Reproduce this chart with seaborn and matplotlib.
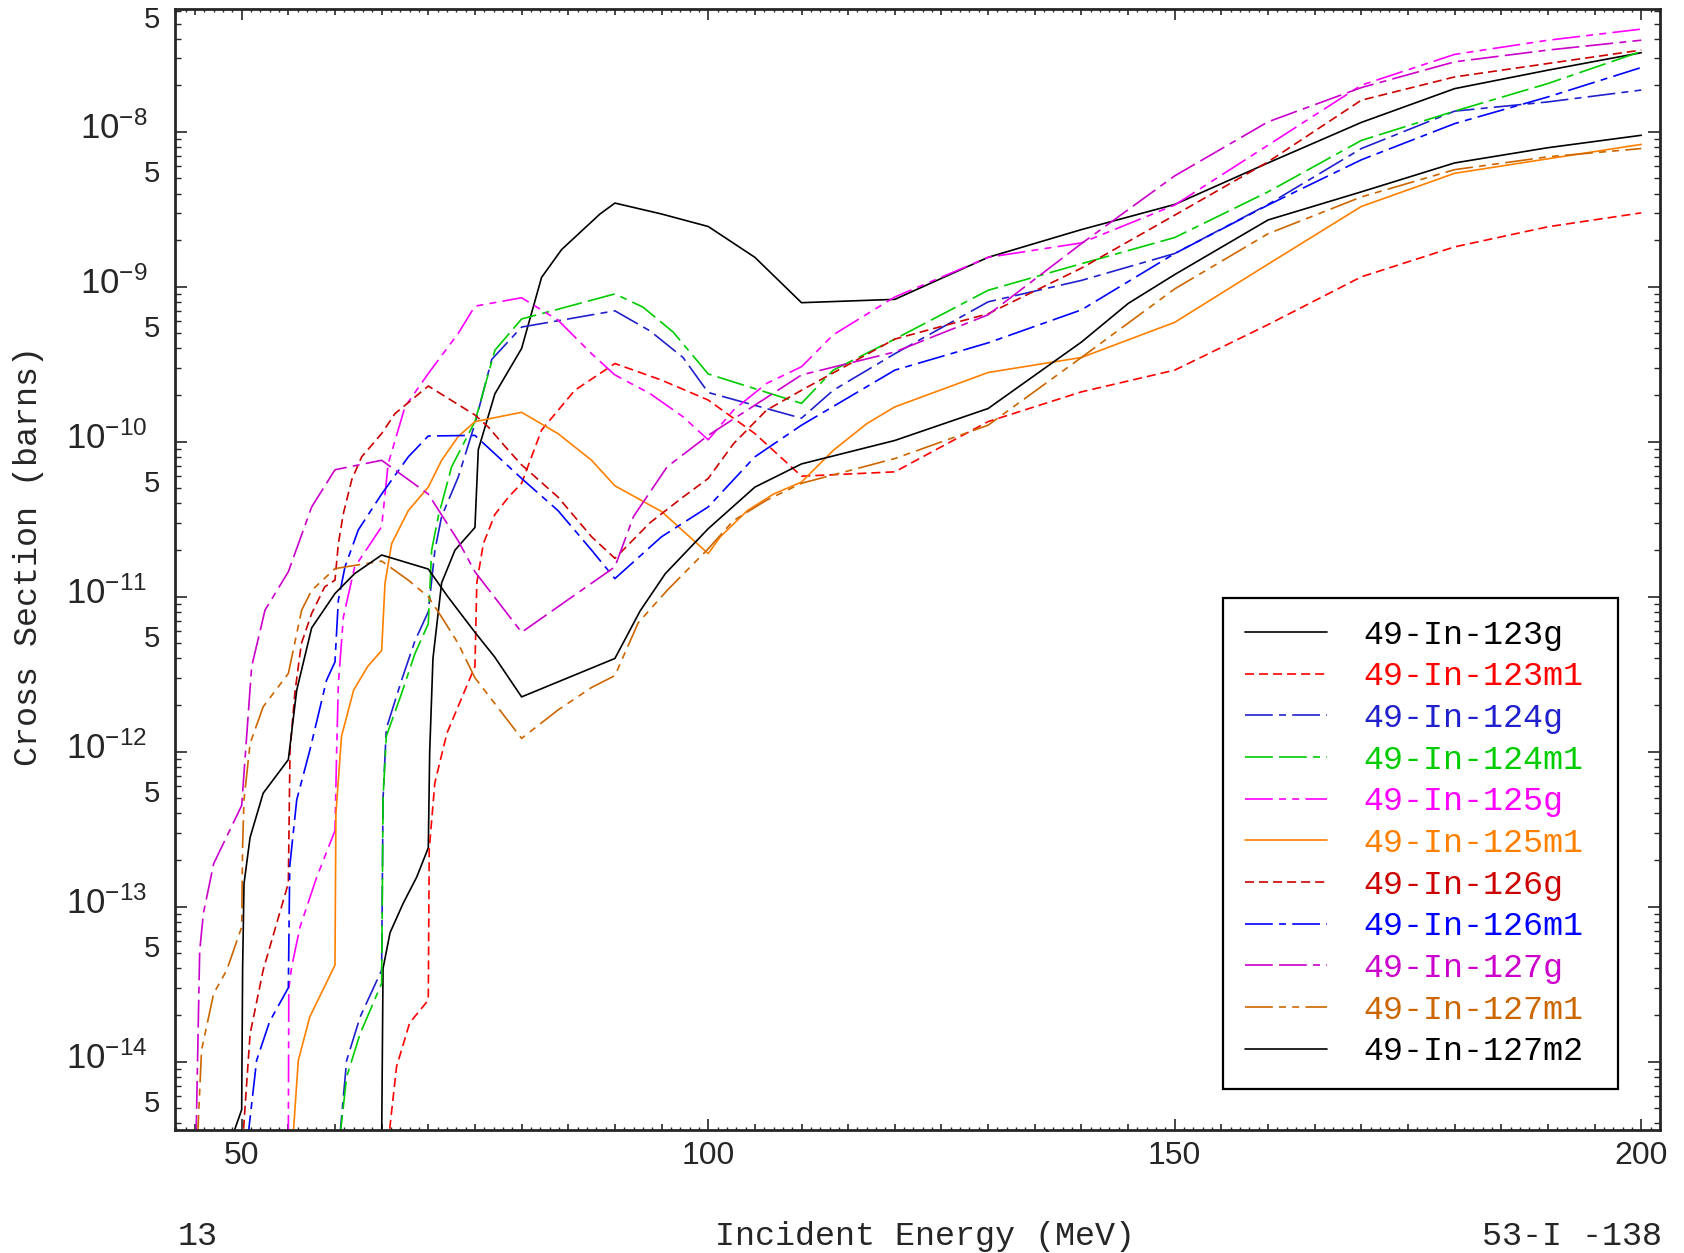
import numpy as np
import pandas as pd
import matplotlib
matplotlib.use("Agg")
import matplotlib.pyplot as plt
import matplotlib.transforms as mtrans
import seaborn as sns
from matplotlib.lines import Line2D
from matplotlib.ticker import FixedLocator, MultipleLocator, FuncFormatter

# DATA  (incident energy in MeV, cross section in barns)
# 3.0e-15 marks where a curve leaves the bottom of the frame at its threshold

labels = ["49-In-123g", "49-In-123m1", "49-In-124g", "49-In-124m1", "49-In-125g",
          "49-In-125m1", "49-In-126g", "49-In-126m1", "49-In-127g", "49-In-127m1",
          "49-In-127m2"]

e_123g = [65.0, 65.15, 65.9, 67.3, 68.75, 70, 70.15, 70.5, 71.43, 72.86, 75, 75.36, 77.14,
          80, 82.14, 84.29, 88.4, 90, 95, 100, 105, 110, 120, 130, 140, 150, 160, 170,
          180, 190, 200]
xs_123g = [3.0e-15, 4.0e-14, 6.8e-14, 1.05e-13, 1.55e-13, 2.4e-13, 1.0e-12, 4.0e-12, 1.23e-11,
           2.0e-11, 2.8e-11, 8.9e-11, 2.04e-10, 4.0e-10, 1.15e-9, 1.74e-9, 2.95e-9, 3.47e-9,
           2.95e-9, 2.45e-9, 1.55e-9, 7.9e-10, 8.3e-10, 1.55e-9, 2.34e-9, 3.4e-9, 6.3e-9,
           1.15e-8, 1.9e-8, 2.5e-8, 3.24e-8]

e_123m1 = [65.7, 66.6, 68.0, 70, 70.1, 70.7, 72.0, 75, 75.2, 75.9, 77.14, 78.6, 80, 82.14,
           85.7, 90, 95, 100, 105, 110, 120, 130, 140, 150, 160, 170, 180, 190, 200]
xs_123m1 = [3.0e-15, 9.3e-15, 1.78e-14, 2.5e-14, 2.34e-13, 6.3e-13, 1.32e-12, 3.55e-12,
            1.23e-11, 2.2e-11, 3.4e-11, 4.4e-11, 5.4e-11, 1.19e-10, 2.15e-10, 3.2e-10,
            2.5e-10, 1.86e-10, 1.13e-10, 6.0e-11, 6.4e-11, 1.35e-10, 2.1e-10, 2.9e-10,
            5.7e-10, 1.16e-9, 1.81e-9, 2.44e-9, 3.0e-9]

e_124g = [60.46, 61.25, 62.7, 65, 65.15, 65.5, 67.14, 68.57, 70, 70.71, 71.43, 73.2, 75,
          76.8, 80, 90, 93.75, 97.3, 100, 110, 113.4, 120, 130, 140, 150, 160, 170, 180,
          190, 200]
xs_124g = [3.0e-15, 1.02e-14, 1.95e-14, 3.9e-14, 5.0e-13, 1.41e-12, 2.9e-12, 5.2e-12, 8.0e-12,
           2.0e-11, 3.3e-11, 5.9e-11, 1.31e-10, 3.4e-10, 5.5e-10, 7.0e-10, 5.2e-10, 3.5e-10,
           2.08e-10, 1.42e-10, 2.15e-10, 3.7e-10, 8.0e-10, 1.1e-9, 1.64e-9, 3.4e-9, 7.8e-9,
           1.36e-8, 1.56e-8, 1.86e-8]

e_124m1 = [60.46, 61.25, 62.7, 65, 65.15, 65.5, 67.14, 68.57, 70, 70.36, 71.07, 72.5, 75,
           77.14, 80, 90, 93, 96.25, 100, 110, 113.4, 120, 130, 140, 150, 160, 170, 180,
           190, 200]
xs_124m1 = [3.0e-15, 8.0e-15, 1.52e-14, 3.2e-14, 5.0e-13, 1.26e-12, 2.38e-12, 4.3e-12,
            6.7e-12, 2.0e-11, 3.3e-11, 6.9e-11, 1.35e-10, 3.9e-10, 6.2e-10, 9.0e-10, 7.4e-10,
            5.1e-10, 2.74e-10, 1.77e-10, 2.9e-10, 4.6e-10, 9.5e-10, 1.41e-9, 2.08e-9, 4.1e-9,
            8.8e-9, 1.36e-8, 2.05e-8, 3.3e-8]

e_125g = [55.0, 55.05, 55.36, 56.25, 58.04, 60, 60.18, 60.36, 60.9, 62.1, 65, 65.7, 67.5,
          70, 73.2, 75, 80, 83.9, 87.5, 90, 93.75, 97.3, 100, 102.7, 106.25, 110, 113.4,
          120, 130, 140, 150, 160, 170, 180, 190, 200]
xs_125g = [3.0e-15, 2.97e-14, 4.1e-14, 7.4e-14, 1.55e-13, 3.1e-13, 1.02e-12, 2.75e-12,
           7.4e-12, 1.55e-11, 2.83e-11, 7.2e-11, 1.68e-10, 2.76e-10, 5.0e-10, 7.5e-10,
           8.5e-10, 6.1e-10, 3.7e-10, 2.7e-10, 2.05e-10, 1.45e-10, 1.03e-10, 1.6e-10,
           2.38e-10, 3.05e-10, 4.9e-10, 8.6e-10, 1.55e-9, 1.92e-9, 3.37e-9, 8.2e-9, 2.0e-8,
           3.16e-8, 3.9e-8, 4.6e-8]

e_125m1 = [55.46, 56.07, 57.3, 60, 60.1, 60.7, 62.0, 63.5, 65, 65.36, 66.07, 67.86, 70,
           71.43, 73.2, 75, 80, 83.9, 87.5, 90, 95, 100, 101.3, 104.2, 107, 110, 113.4, 117,
           120, 130, 140, 150, 160, 170, 180, 190, 200]
xs_125m1 = [3.0e-15, 1.02e-14, 1.95e-14, 4.2e-14, 4.0e-13, 1.26e-12, 2.5e-12, 3.55e-12,
            4.5e-12, 1.22e-11, 2.2e-11, 3.6e-11, 5.1e-11, 7.6e-11, 1.08e-10, 1.35e-10,
            1.55e-10, 1.13e-10, 7.6e-11, 5.2e-11, 3.55e-11, 1.9e-11, 2.44e-11, 3.6e-11,
            4.6e-11, 5.5e-11, 8.8e-11, 1.31e-10, 1.68e-10, 2.8e-10, 3.5e-10, 5.9e-10, 1.4e-9,
            3.3e-9, 5.4e-9, 6.7e-9, 8.3e-9]

e_126g = [50.1, 50.9, 52.3, 55, 55.18, 55.7, 56.4, 57.5, 58.9, 60, 60.36, 60.9, 61.8, 62.86,
          65, 66.43, 70, 75, 76.4, 78.6, 80, 83.9, 87.5, 90, 93.75, 97.3, 100, 102.7,
          106.25, 110, 120, 130, 140, 150, 160, 170, 180, 190, 200]
xs_126g = [3.0e-15, 1.51e-14, 3.9e-14, 1.42e-13, 1.02e-12, 2.4e-12, 5.0e-12, 7.8e-12,
           1.16e-11, 1.28e-11, 2.2e-11, 3.45e-11, 5.7e-11, 8.0e-11, 1.13e-10, 1.52e-10,
           2.29e-10, 1.49e-10, 1.25e-10, 8.8e-11, 7.1e-11, 4.4e-11, 2.44e-11, 1.77e-11,
           3.0e-11, 4.4e-11, 5.8e-11, 9.7e-11, 1.6e-10, 2.15e-10, 4.6e-10, 6.7e-10, 1.32e-9,
           2.9e-9, 6.4e-9, 1.6e-8, 2.26e-8, 2.76e-8, 3.37e-8]

e_126m1 = [50.6, 51.6, 53.0, 55, 55.15, 55.9, 57.3, 59.1, 60, 60.36, 61.07, 62.5, 65, 67.86,
           70, 75, 80, 83.9, 87.5, 90, 95, 100, 105, 110, 120, 130, 140, 150, 160, 170, 180,
           190, 200]
xs_126m1 = [3.0e-15, 1.02e-14, 1.82e-14, 3.0e-14, 1.82e-13, 4.9e-13, 1.02e-12, 2.9e-12,
            3.8e-12, 9.5e-12, 1.56e-11, 2.7e-11, 4.6e-11, 8.0e-11, 1.09e-10, 1.1e-10,
            5.8e-11, 3.6e-11, 2.0e-11, 1.31e-11, 2.44e-11, 3.8e-11, 8.0e-11, 1.28e-10,
            2.9e-10, 4.35e-10, 7.1e-10, 1.64e-9, 3.37e-9, 6.6e-9, 1.13e-8, 1.68e-8, 2.6e-8]

e_127g = [45.1, 45.5, 45.9, 47.0, 50, 51.07, 52.5, 55, 57.5, 60, 65, 70, 73.2, 75, 80, 90,
          92, 95.6, 100, 110, 120, 130, 140, 150, 160, 170, 180, 190, 200]
xs_127g = [3.0e-15, 5.2e-14, 9.1e-14, 1.9e-13, 4.5e-13, 3.55e-12, 8.2e-12, 1.45e-11, 3.8e-11,
           6.6e-11, 7.6e-11, 4.6e-11, 2.3e-11, 1.45e-11, 5.9e-12, 1.56e-11, 3.3e-11, 6.9e-11,
           1.1e-10, 2.7e-10, 3.8e-10, 6.6e-10, 1.9e-9, 5.2e-9, 1.16e-8, 1.93e-8, 2.83e-8,
           3.37e-8, 3.9e-8]

e_127m1 = [45.25, 45.7, 47.0, 48.4, 50, 50.1, 50.25, 50.9, 52.3, 55, 56.43, 57.5, 60, 65,
           67.86, 70, 71.43, 73.2, 75, 80, 83.9, 87.5, 90, 92.5, 95.6, 100, 102.7, 106.25,
           110, 120, 130, 140, 150, 160, 170, 180, 190, 200]
xs_127m1 = [3.0e-15, 1.19e-14, 2.76e-14, 3.9e-14, 7.4e-14, 2.5e-13, 4.9e-13, 1.13e-12,
            1.95e-12, 3.2e-12, 8.2e-12, 1.1e-11, 1.52e-11, 1.7e-11, 1.28e-11, 1.0e-11,
            7.4e-12, 5.0e-12, 3.0e-12, 1.22e-12, 1.86e-12, 2.6e-12, 3.1e-12, 6.8e-12, 1.1e-11,
            2.04e-11, 3.1e-11, 4.2e-11, 5.4e-11, 7.8e-11, 1.28e-10, 3.5e-10, 9.7e-10, 2.2e-9,
            3.8e-9, 5.7e-9, 6.9e-9, 7.8e-9]

e_127m2 = [48.75, 50, 50.1, 50.25, 50.9, 52.3, 55, 55.9, 57.5, 60, 62.1, 65, 70, 72.1, 75,
           77.1, 80, 90, 92.7, 95.4, 100, 105, 110, 120, 130, 140, 145, 150, 160, 170, 180,
           190, 200]
xs_127m2 = [3.0e-15, 4.9e-15, 4.0e-14, 1.41e-13, 2.8e-13, 5.4e-13, 8.9e-13, 2.5e-12, 6.3e-12,
            1.05e-11, 1.41e-11, 1.86e-11, 1.51e-11, 1.0e-11, 5.9e-12, 4.1e-12, 2.26e-12,
            4.0e-12, 8.1e-12, 1.41e-11, 2.75e-11, 5.1e-11, 7.2e-11, 1.02e-10, 1.64e-10,
            4.4e-10, 7.8e-10, 1.2e-9, 2.7e-9, 4.1e-9, 6.3e-9, 7.9e-9, 9.5e-9]

energies = [e_123g, e_123m1, e_124g, e_124m1, e_125g, e_125m1, e_126g, e_126m1,
            e_127g, e_127m1, e_127m2]
values = [xs_123g, xs_123m1, xs_124g, xs_124m1, xs_125g, xs_125m1, xs_126g, xs_126m1,
          xs_127g, xs_127m1, xs_127m2]

colors = ["#000000", "#ff0000", "#2020cc", "#00cc00", "#ff00ff", "#ff8000",
          "#cc0000", "#0000ff", "#cc00cc", "#cc6600", "#000000"]

# dash patterns in points
solid = ""
short_dash = (6.5, 3.6)
dash_dot = (20, 4.5, 5, 4.5)
long_long_short = (20, 4.5, 20, 4.5, 5, 4.5)
dash_dot_dot = (20, 4.5, 5, 4.5, 5, 4.5)
styles = [solid, short_dash, dash_dot, long_long_short, dash_dot_dot, solid,
          short_dash, dash_dot, long_long_short, dash_dot_dot, solid]

frames = []
for name, e, xs in zip(labels, energies, values):
    frames.append(pd.DataFrame({"energy": e, "xs": xs, "nuclide": name}))
df = pd.concat(frames, ignore_index=True)

# FIGURE

sns.set_style("ticks")
plt.rcParams["font.family"] = ["Liberation Sans", "DejaVu Sans"]
plt.rcParams["mathtext.fontset"] = "custom"
plt.rcParams["mathtext.rm"] = "Liberation Sans"
plt.rcParams["lines.scale_dashes"] = False
mono = ["Liberation Mono", "DejaVu Sans Mono"]

fig = plt.figure(figsize=(16.84, 12.53), dpi=100)
ax = fig.add_axes([0.1039, 0.0982, 0.9857 - 0.1039, 0.9928 - 0.0982])
ax.set_yscale("log")

sns.lineplot(data=df, x="energy", y="xs", hue="nuclide", style="nuclide",
             hue_order=labels, style_order=labels,
             palette=dict(zip(labels, colors)), dashes=dict(zip(labels, styles)),
             estimator=None, sort=True, legend=False, linewidth=1.2, ax=ax)

ax.set_xlim(42.85, 202.0)
ax.set_ylim(3.63e-15, 6.2e-8)
ax.set_xlabel("")
ax.set_ylabel("")

for sp in ax.spines.values():
    sp.set_visible(True)
    sp.set_linewidth(2.0)

# x ticks: long every 50, medium every 5, short every 1
ax.xaxis.set_major_locator(MultipleLocator(5))
ax.xaxis.set_minor_locator(MultipleLocator(1))
ax.xaxis.set_major_formatter(FuncFormatter(lambda v, p: f"{v:.0f}" if round(v) % 50 == 0 else ""))
ax.tick_params(axis="x", which="major", direction="in", length=4.2, width=1.2,
               top=True, bottom=True, labelsize=23, pad=8)
ax.tick_params(axis="x", which="minor", direction="in", length=2.4, width=1.0,
               top=True, bottom=True)

# y ticks: decades labelled 10^n, minor ticks with "5" labels
decades = [10.0 ** k for k in range(-14, -7)]
minors = [m * 10.0 ** k for k in range(-15, -7) for m in range(2, 10)]
ax.yaxis.set_major_locator(FixedLocator(decades))
ax.yaxis.set_minor_locator(FixedLocator(minors))
ax.yaxis.set_major_formatter(FuncFormatter(
    lambda v, p: r"$\mathregular{10^{%d}}$" % round(np.log10(v))))
ax.yaxis.set_minor_formatter(FuncFormatter(
    lambda v, p: "5" if abs(v / 10.0 ** np.floor(np.log10(v) + 1e-9) - 5) < 1e-6 else ""))
ax.tick_params(axis="y", which="major", direction="in", length=8.5, width=1.2,
               left=True, right=True, labelsize=25, pad=20)
ax.tick_params(axis="y", which="minor", direction="in", length=4.3, width=1.0,
               left=True, right=True, labelsize=21, pad=11)

fig.canvas.draw()
for t in ax.xaxis.get_major_ticks():
    if round(t.get_loc()) % 50 == 0:
        t.tick1line.set_markersize(8.0)
        t.tick2line.set_markersize(8.0)

# the y labels sit a little above their ticks in the original
lift = mtrans.ScaledTranslation(0, 0.07, fig.dpi_scale_trans)
for t in ax.yaxis.get_major_ticks() + ax.yaxis.get_minor_ticks():
    t.label1.set_transform(t.label1.get_transform() + lift)

# legend
handles = []
for c, d in zip(colors, styles):
    h = Line2D([0], [0], color=c, lw=1.2, linestyle="-")
    if d:
        h.set_dashes(d)
    handles.append(h)
leg = ax.legend(handles, labels, loc="upper left",
                bbox_to_anchor=(0.7060, 0.0419, 0.2658, 0.4327), mode="expand",
                prop={"family": mono, "size": 24}, handlelength=2.45, handletextpad=1.1,
                labelspacing=0.32, borderpad=0.65, borderaxespad=0.0, fancybox=False,
                framealpha=1.0, edgecolor="black")
leg.get_frame().set_linewidth(1.6)
for txt, c in zip(leg.get_texts(), colors):
    txt.set_color(c)

# axis titles and corner notes
fig.text(0.0172, 0.556, "Cross Section (barns)", rotation=90, ha="center", va="center",
         family=mono, fontsize=24)
fig.text(0.549, 0.0131, "Incident Energy (MeV)", ha="center", va="center",
         family=mono, fontsize=24)
fig.text(0.1057, 0.0131, "13", ha="left", va="center", family=mono, fontsize=24)
fig.text(0.9867, 0.0131, "53-I -138", ha="right", va="center", family=mono, fontsize=24)

fig.savefig("out.png", dpi=100)
